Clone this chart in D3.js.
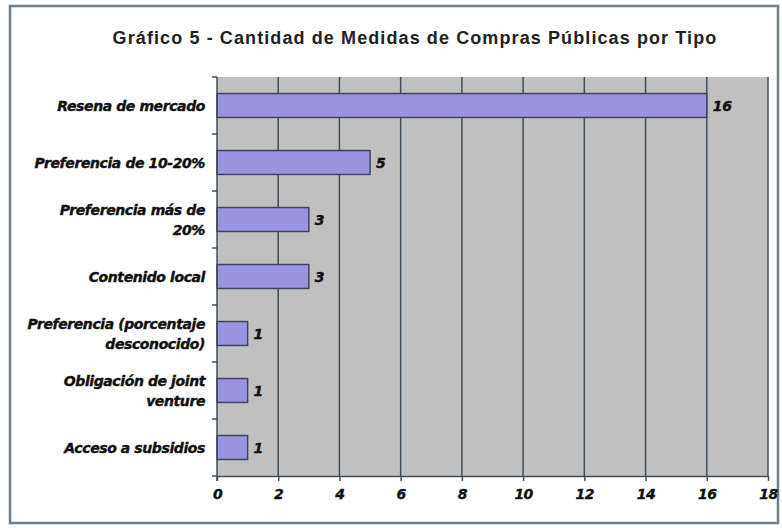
<!DOCTYPE html>
<html><head><meta charset="utf-8">
<script src="https://cdn.jsdelivr.net/npm/d3@7"></script>
<style>body{margin:0;background:#fff;}svg{display:block;}</style>
</head><body>
<script>
const categories = [
  ["Resena de mercado"],
  ["Preferencia de 10-20%"],
  ["Preferencia más de", "20%"],
  ["Contenido local"],
  ["Preferencia (porcentaje", "desconocido)"],
  ["Obligación de joint", "venture"],
  ["Acceso a subsidios"]
];
const values = [16, 5, 3, 3, 1, 1, 1];
const xTicks = [0, 2, 4, 6, 8, 10, 12, 14, 16, 18];
const title = "Gráfico 5 - Cantidad de Medidas de Compras Públicas por Tipo";

const W = 782, H = 528;
const LF = "DejaVu Sans, Verdana, sans-serif";
const svg = d3.select("body").append("svg").attr("width", W).attr("height", H);
svg.append("rect").attr("x", 0).attr("y", 0).attr("width", W).attr("height", H).attr("fill", "#fff");
svg.append("rect").attr("x", 10).attr("y", 6).attr("width", 768).attr("height", 517)
  .attr("fill", "#fff").attr("stroke", "#6f7f8c").attr("stroke-width", 2.5);

const m = {left: 217, right: 768, top: 77, bottom: 476};
const ids = categories.map((c, i) => i);
const x = d3.scaleLinear().domain([0, 18]).range([m.left, m.right]);
const y = d3.scaleBand().domain(ids).range([m.top, m.bottom]).paddingInner(0.58).paddingOuter(0.29);

svg.append("rect").attr("x", m.left).attr("y", m.top).attr("width", m.right - m.left)
  .attr("height", m.bottom - m.top).attr("fill", "#c0c0c0");

// vertical gridlines
svg.append("g").selectAll("line").data(xTicks.slice(1)).join("line")
  .attr("x1", d => x(d)).attr("x2", d => x(d)).attr("y1", m.top).attr("y2", m.bottom)
  .attr("stroke", "#3d4f5c").attr("stroke-width", 1.5);

// bars
svg.append("g").selectAll("rect").data(values).join("rect")
  .attr("x", x(0)).attr("y", (d, i) => y(i)).attr("width", d => x(d) - x(0))
  .attr("height", y.bandwidth()).attr("fill", "#9b92e0").attr("stroke", "#3d4460").attr("stroke-width", 1.5);

// value labels
svg.append("g").selectAll("text").data(values).join("text")
  .attr("x", d => x(d) + 6).attr("y", (d, i) => y(i) + y.bandwidth() / 2 + 5)
  .attr("font-family", LF).attr("font-weight", "bold")
  .attr("font-style", "italic").attr("font-size", 14).attr("letter-spacing", "-0.3").attr("fill", "#111")
  .attr("stroke", "#111").attr("stroke-width", 0.4)
  .text(d => d);

// x axis
const xa = svg.append("g").attr("transform", `translate(0,${m.bottom})`)
  .call(d3.axisBottom(x).tickValues(xTicks).tickSize(5).tickSizeOuter(0).tickPadding(8));
xa.select(".domain").attr("stroke", "#3d4f5c").attr("stroke-width", 1.5);
xa.selectAll(".tick line").attr("stroke", "#3d4f5c").attr("stroke-width", 1.5);
xa.selectAll("text").attr("font-family", LF).attr("font-weight", "bold")
  .attr("font-style", "italic").attr("font-size", 14).attr("letter-spacing", "-0.5").attr("fill", "#111")
  .attr("stroke", "#111").attr("stroke-width", 0.4);

// y axis line + ticks at band boundaries
svg.append("line").attr("x1", m.left).attr("x2", m.left).attr("y1", m.top).attr("y2", m.bottom + 5)
  .attr("stroke", "#3d4f5c").attr("stroke-width", 1.5);
const bounds = d3.range(ids.length + 1).map(i => m.top + i * y.step());
svg.append("g").selectAll("line").data(bounds).join("line")
  .attr("x1", m.left - 5).attr("x2", m.left).attr("y1", d => d).attr("y2", d => d)
  .attr("stroke", "#3d4f5c").attr("stroke-width", 1.5);

// category labels
const cl = svg.append("g").selectAll("text").data(categories).join("text")
  .attr("text-anchor", "end")
  .attr("font-family", LF).attr("font-weight", "bold")
  .attr("font-style", "italic").attr("font-size", 14).attr("letter-spacing", "-0.4")
  .attr("fill", "#111").attr("stroke", "#111").attr("stroke-width", 0.4);
cl.each(function(lines, i) {
  const cy = y(i) + y.bandwidth() / 2;
  const n = lines.length;
  const lh = 20;
  lines.forEach((ln, k) => {
    d3.select(this).append("tspan").attr("x", 205)
      .attr("y", cy + 5 + (k - (n - 1) / 2) * lh).text(ln);
  });
});

svg.append("text").attr("x", 415).attr("y", 44).attr("text-anchor", "middle")
  .attr("font-family", "Liberation Sans, Arial, sans-serif").attr("font-weight", "bold")
  .attr("font-size", 18).attr("letter-spacing", "1.1").attr("fill", "#222").text(title);
</script>
</body></html>
